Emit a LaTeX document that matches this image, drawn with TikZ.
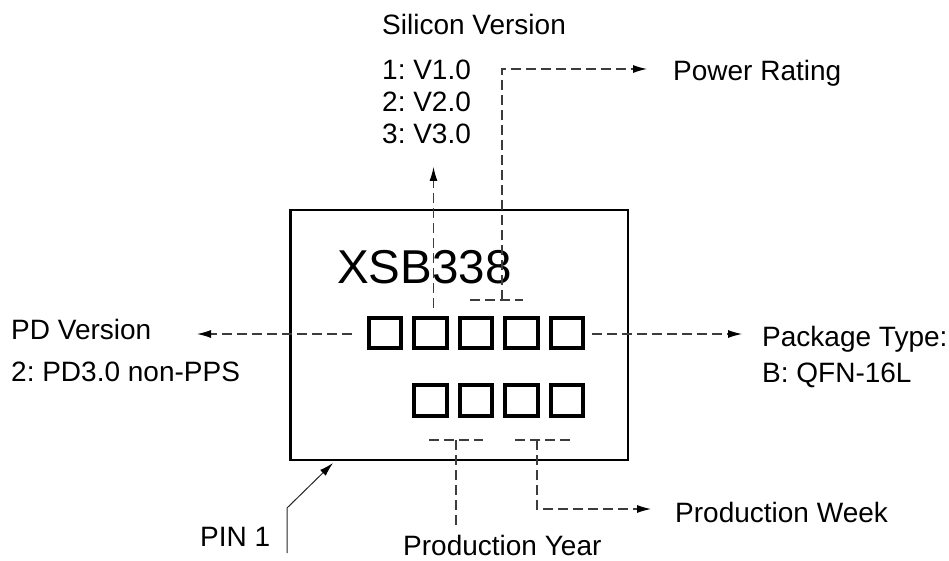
\documentclass[tikz,border=0pt]{standalone}
\usepackage{fontspec}
\setmainfont{Liberation Sans}
\frenchspacing
\usetikzlibrary{arrows.meta}
\definecolor{dashgray}{RGB}{60,60,60}
\tikzset{
  lbl/.style={anchor=base west,inner sep=0pt,font=\fontsize{28}{30}\selectfont},
  chipbox/.style={draw=black,line width=2.8pt},
  cell/.style={draw=black,line width=3.8pt},
  lead/.style={draw=dashgray,line width=1.1pt,dash pattern=on 10pt off 5pt},
  tip/.style={-{Latex[length=14pt,width=8pt,color=black]}},
  pinline/.style={draw=black!85,line width=1pt}
}
\begin{document}
\begin{tikzpicture}[x=1pt,y=-1pt]
\useasboundingbox (0,0) rectangle (949,561);
% chip outline
\draw[chipbox] (290.5,210) rectangle (628,460);
\node[anchor=base west,inner sep=0pt,font=\fontsize{47.5}{50}\selectfont] (part) at (337,283) {XSB338};
% marking cells, row 1
\foreach \i/\xx in {1/367,2/412.5,3/458,4/503.5,5/549}{
  \draw[cell] (\xx+1.8,317.8) rectangle (\xx+34.2,348.2);
}
% marking cells, row 2
\foreach \i/\xx in {1/412.5,2/458,3/503.5,4/549}{
  \draw[cell] (\xx+1.8,384.8) rectangle (\xx+34.2,416.2);
}
% labels
\node[lbl] (silicon) at (382,35) {Silicon Version};
\node[lbl] (v1) at (382,80) {1: V1.0};
\node[lbl] (v2) at (382,112) {2: V2.0};
\node[lbl] (v3) at (382,144) {3: V3.0};
\node[lbl] (power) at (673,81) {Power Rating};
\node[lbl] (pdv) at (11,339) {PD Version};
\node[lbl] (pdval) at (11,381) {2: PD3.0 non-PPS};
\node[lbl] (pkg) at (762,346) {Package Type:};
\node[lbl] (pkgval) at (762,382) {B: QFN-16L};
\node[lbl] (pin) at (200,546) {PIN 1};
\node[lbl] (pyear) at (403,555) {Production Year};
\node[lbl] (pweek) at (675,522) {Production Week};
% connector end points
\coordinate (pdS) at (352,334);
\coordinate (pdE) at (197,334);
\coordinate (pkS) at (592,334);
\coordinate (pkE) at (742,334);
\coordinate (siS) at (433.5,308);
\coordinate (siE) at (433.5,167);
\coordinate (pwS) at (502,300);
\coordinate (pwC) at (502,69);
\coordinate (pwE) at (647,69);
\coordinate (uA) at (470,300);
\coordinate (uB) at (523,300);
\coordinate (yA) at (429,440);
\coordinate (yB) at (483,440);
\coordinate (wA) at (515,440);
\coordinate (wB) at (570,440);
\coordinate (pyS) at (456,440);
\coordinate (pyE) at (456,527);
\coordinate (pkS2) at (537,440);
\coordinate (pkC2) at (537,509);
\coordinate (pkE2) at (651,509);
\coordinate (pinB) at (287,553);
\coordinate (pinK) at (287,508);
\coordinate (pinT) at (333,463);
% dashed leaders
\draw[lead,tip] (pdS) -- (pdE);
\draw[lead,tip] (pkS) -- (pkE);
\draw[lead,tip] (siS) -- (siE);
\draw[lead,tip] (pwS) -- (pwC) -- (pwE);
\draw[lead] (uA) -- (uB);
\draw[lead] (yA) -- (yB);
\draw[lead] (wA) -- (wB);
\draw[lead] (pyS) -- (pyE);
\draw[lead,tip] (pkS2) -- (pkC2) -- (pkE2);
% PIN 1 pointer
\draw[pinline,tip] (pinB) -- (pinK) -- (pinT);
\end{tikzpicture}
\end{document}
